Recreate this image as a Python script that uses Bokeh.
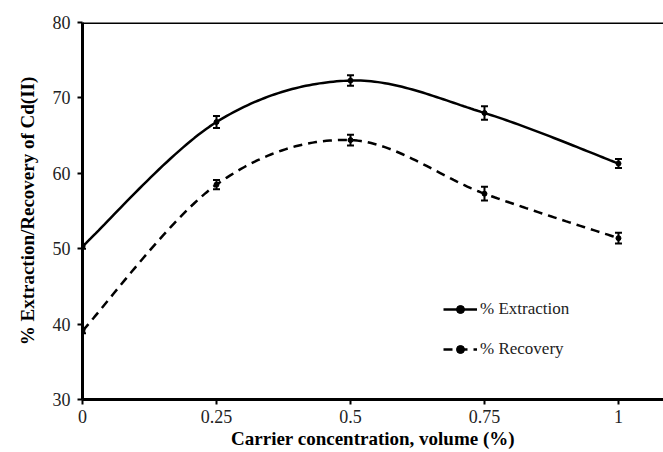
import numpy as np
from bokeh.plotting import figure
from bokeh.models import (Range1d, Span, Whisker, TeeHead, ColumnDataSource,
                          Legend, LegendItem, FixedTicker)
from bokeh.embed import file_html
from bokeh.resources import INLINE

# ---- data ----
concentration = [0, 0.25, 0.5, 0.75, 1.0]
extraction = [50.3, 66.8, 72.3, 68.0, 61.3]
extraction_err = [0.3, 0.8, 0.7, 0.9, 0.6]
recovery = [39.1, 58.5, 64.4, 57.3, 51.4]
recovery_err = [0.3, 0.6, 0.7, 0.9, 0.7]
x_ticks = [0, 0.25, 0.5, 0.75, 1]
y_ticks = [30, 40, 50, 60, 70, 80]

FONT = "Liberation Serif"


def smooth(xs, ys, n=40):
    """Excel-like smoothed line: cubic Bezier through points with Catmull-Rom tangents."""
    xs = np.asarray(xs, float)
    ys = np.asarray(ys, float)
    P = np.column_stack([xs, ys])
    out = []
    m = len(P)
    for i in range(m - 1):
        p0 = P[i - 1] if i > 0 else P[i]
        p1 = P[i]
        p2 = P[i + 1]
        p3 = P[i + 2] if i + 2 < m else P[i + 1]
        c1 = p1 + (p2 - p0) / 6.0
        c2 = p2 - (p3 - p1) / 6.0
        t = np.linspace(0, 1, n)[:, None]
        seg = ((1 - t) ** 3) * p1 + 3 * ((1 - t) ** 2) * t * c1 + 3 * (1 - t) * t ** 2 * c2 + t ** 3 * p2
        out.append(seg if i == 0 else seg[1:])
    arr = np.vstack(out)
    return arr[:, 0], arr[:, 1]


p = figure(width=663, height=452, output_backend="svg", toolbar_location=None,
           x_range=Range1d(0, 1.084), y_range=Range1d(30, 80))
p.min_border_left = 82
p.min_border_right = 0
p.min_border_top = 22
p.min_border_bottom = 53
p.outline_line_color = None
p.grid.visible = False
p.background_fill_color = "white"
p.border_fill_color = "white"

# axes
for ax in (p.xaxis[0], p.yaxis[0]):
    ax.axis_line_width = 3
    ax.axis_line_color = "black"
    ax.major_tick_line_width = 2
    ax.major_tick_line_color = "black"
    ax.major_tick_in = 0
    ax.major_tick_out = 5
    ax.minor_tick_line_color = None
    ax.major_label_text_font = FONT
    ax.major_label_text_font_size = "18px"
    ax.major_label_text_color = "#222222"
    ax.axis_label_text_font = FONT
    ax.axis_label_text_font_style = "bold"
    ax.axis_label_text_font_size = "19px"
    ax.axis_label_text_color = "black"

p.xaxis.ticker = FixedTicker(ticks=x_ticks)
p.yaxis.ticker = FixedTicker(ticks=y_ticks)
p.xaxis.major_label_overrides = {0: "0", 0.25: "0.25", 0.5: "0.5", 0.75: "0.75", 1: "1"}
p.xaxis.axis_label = "Carrier concentration, volume (%)"
p.yaxis.axis_label = "% Extraction/Recovery of Cd(II)"
p.xaxis.major_label_standoff = 5
p.xaxis.axis_label_standoff = 2
p.yaxis.major_label_standoff = 7
p.yaxis.axis_label_standoff = 12

# top border line
p.add_layout(Span(location=80, dimension="width", line_color="black", line_width=3))

# curves
ex_x, ex_y = smooth(concentration, extraction)
re_x, re_y = smooth(concentration, recovery)
l1 = p.line(ex_x, ex_y, line_color="black", line_width=2.5)
l2 = p.line(re_x, re_y, line_color="black", line_width=2.5, line_dash="9 6")
m1 = p.scatter(concentration, extraction, marker="circle", size=5, color="black")
m2 = p.scatter(concentration, recovery, marker="circle", size=5, color="black")

for vals, errs in ((extraction, extraction_err), (recovery, recovery_err)):
    src = ColumnDataSource(dict(x=concentration,
                                upper=[v + e for v, e in zip(vals, errs)],
                                lower=[v - e for v, e in zip(vals, errs)]))
    w = Whisker(source=src, base="x", upper="upper", lower="lower",
                line_color="black", line_width=2,
                upper_head=TeeHead(size=7, line_width=2, line_color="black"),
                lower_head=TeeHead(size=7, line_width=2, line_color="black"))
    p.add_layout(w)

legend = Legend(items=[LegendItem(label="% Extraction", renderers=[l1, m1]),
                       LegendItem(label="% Recovery", renderers=[l2, m2])],
                location=(361, 40), orientation="vertical")
legend.glyph_width = 34
legend.glyph_height = 20
legend.label_height = 20
legend.spacing = 20
legend.padding = 0
legend.margin = 0
legend.label_standoff = 3
legend.label_text_font = FONT
legend.label_text_font_size = "17px"
legend.label_text_color = "#222222"
legend.border_line_color = None
legend.background_fill_alpha = 0
p.add_layout(legend)

open("out.html", "w").write(file_html(p, INLINE))
